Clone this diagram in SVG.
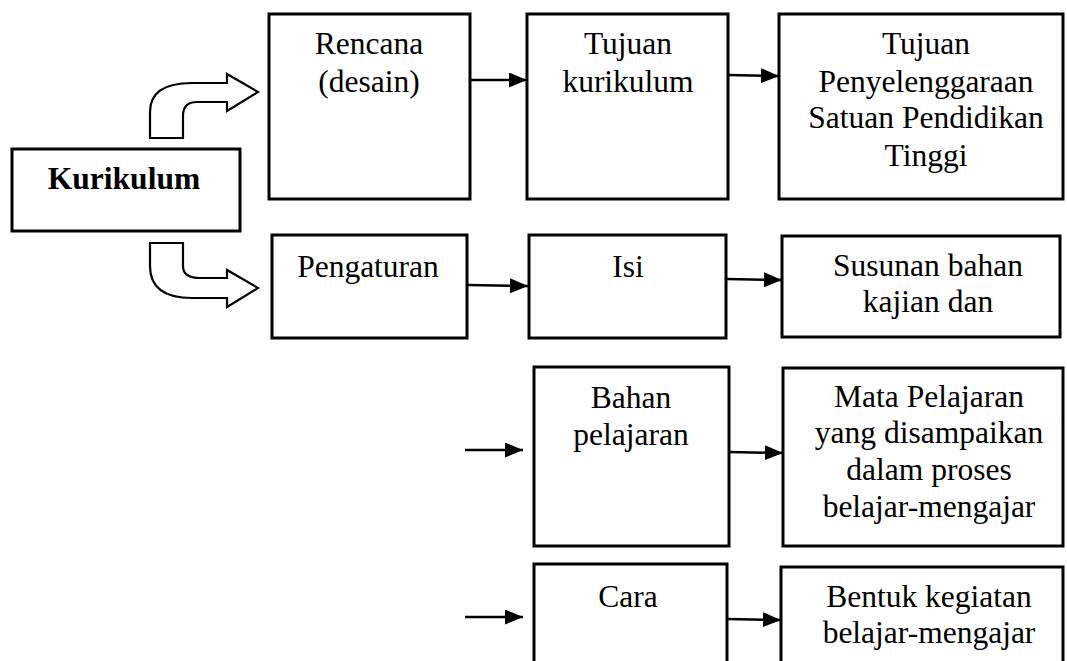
<svg xmlns="http://www.w3.org/2000/svg" width="1067" height="661" viewBox="0 0 1067 661">
<style>
.box{fill:#fff;stroke:#000;stroke-width:3}
.t{font-family:"Liberation Serif","Times New Roman",serif;font-size:31.5px;fill:#000;text-anchor:middle}
.b{font-weight:bold}
.c{stroke:#000;stroke-width:2.5;fill:none;marker-end:url(#ah)}
.ba{fill:#fff;stroke:#000;stroke-width:2.2;stroke-linejoin:miter}
</style>
<defs>
<marker id="ah" markerUnits="userSpaceOnUse" markerWidth="20" markerHeight="16" refX="18" refY="7.5" orient="auto">
<path d="M0,0 L18,7.5 L0,15 Z" fill="#000"/>
</marker>
</defs>
<rect width="1067" height="661" fill="#fff"/>
<g id="kurikulum">
<rect class="box" x="12" y="149" width="228" height="82"/>
<text class="t b" x="124" y="189">Kurikulum</text>
</g>
<g id="rencana">
<rect class="box" x="269" y="14" width="201" height="185"/>
<text class="t" x="369" y="54">Rencana</text>
<text class="t" x="369" y="92">(desain)</text>
</g>
<g id="tujuan-kurikulum">
<rect class="box" x="527" y="14" width="201" height="185"/>
<text class="t" x="628" y="54">Tujuan</text>
<text class="t" x="628" y="92">kurikulum</text>
</g>
<g id="tujuan-penyelenggaraan">
<rect class="box" x="779" y="14" width="284" height="185"/>
<text class="t" x="926" y="54">Tujuan</text>
<text class="t" x="926" y="92">Penyelenggaraan</text>
<text class="t" x="926" y="128">Satuan Pendidikan</text>
<text class="t" x="926" y="166">Tinggi</text>
</g>
<g id="pengaturan">
<rect class="box" x="272" y="235" width="195" height="103"/>
<text class="t" x="368" y="277">Pengaturan</text>
</g>
<g id="isi">
<rect class="box" x="529" y="235" width="197" height="103"/>
<text class="t" x="628" y="277">Isi</text>
</g>
<g id="susunan">
<rect class="box" x="782" y="236" width="278" height="101"/>
<text class="t" x="928" y="276">Susunan bahan</text>
<text class="t" x="928" y="312">kajian dan</text>
</g>
<g id="bahan-pelajaran">
<rect class="box" x="534" y="367" width="195" height="179"/>
<text class="t" x="631" y="408">Bahan</text>
<text class="t" x="631" y="445">pelajaran</text>
</g>
<g id="mata-pelajaran">
<rect class="box" x="783" y="368" width="280" height="178"/>
<text class="t" x="929" y="407">Mata Pelajaran</text>
<text class="t" x="929" y="443">yang disampaikan</text>
<text class="t" x="929" y="480">dalam proses</text>
<text class="t" x="929" y="517">belajar-mengajar</text>
</g>
<g id="cara">
<rect class="box" x="534" y="564" width="193" height="110"/>
<text class="t" x="628" y="607">Cara</text>
</g>
<g id="bentuk-kegiatan">
<rect class="box" x="781" y="567" width="282" height="110"/>
<text class="t" x="929" y="607">Bentuk kegiatan</text>
<text class="t" x="929" y="643">belajar-mengajar</text>
</g>
<g id="connectors">
<path class="ba" d="M150,138 L150,112 Q150,83 192,83 L227,83 L227,74 L258,92 L227,111 L227,102 L197,102 Q183,102 183,116 L183,138 Z"/>
<path class="ba" d="M150,243 L183,243 L183,266 Q183,278 200,278 L227,278 L227,270 L258,288 L227,307 L227,298 L192,298 Q150,298 150,266 Z"/>
<line class="c" x1="470" y1="80" x2="527" y2="80"/>
<line class="c" x1="728" y1="75" x2="779" y2="76"/>
<line class="c" x1="467" y1="285" x2="528" y2="286"/>
<line class="c" x1="726" y1="279" x2="782" y2="280"/>
<line class="c" x1="465" y1="450" x2="523" y2="450"/>
<line class="c" x1="729" y1="452" x2="783" y2="453"/>
<line class="c" x1="465" y1="617" x2="523" y2="617"/>
<line class="c" x1="727" y1="619" x2="781" y2="620"/>
</g>
</svg>
